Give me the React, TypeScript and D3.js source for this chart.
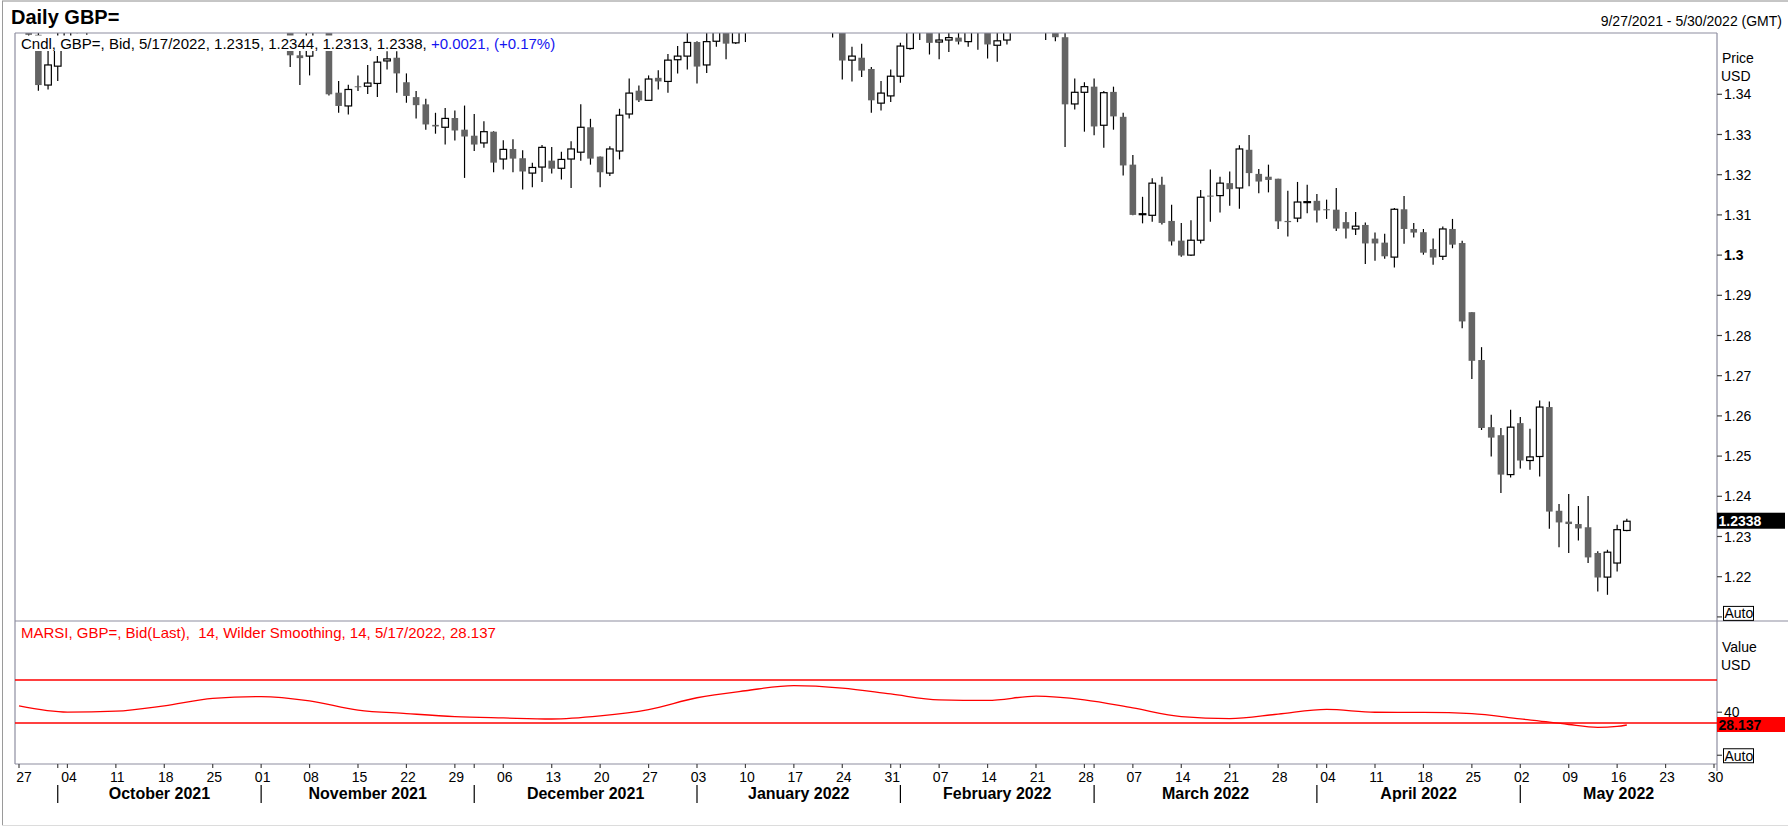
import { useRef, useEffect } from 'react';
import * as d3 from 'd3';

// Trading calendar shown on the axis (weekdays only)
const FIRST_DAY = '2021-09-27';
const LAST_DAY = '2022-05-30';

// Daily GBP= bid candles, 9/27/2021 .. 5/17/2022, one per weekday
const opens = [
  1.3677, 1.3712, 1.3548, 1.3423, 1.3470, 1.3535, 1.3608, 1.3613, 1.3590, 1.3615,
  1.3615, 1.3600, 1.3590, 1.3670, 1.3710, 1.3745, 1.3735, 1.3800, 1.3815, 1.3787,
  1.3760, 1.3770, 1.3755, 1.3747, 1.3830, 1.3683, 1.3675, 1.3615, 1.3670, 1.3497,
  1.3495, 1.3560, 1.3570, 1.3404, 1.3371, 1.3420, 1.3420, 1.3427, 1.3483, 1.3491,
  1.3430, 1.3393, 1.3375, 1.3324, 1.3318, 1.3341, 1.3312, 1.3297, 1.3279, 1.3307,
  1.3239, 1.3264, 1.3241, 1.3204, 1.3219, 1.3235, 1.3216, 1.3239, 1.3256, 1.3318,
  1.3245, 1.3204, 1.3259, 1.3351, 1.3409, 1.3385, 1.3441, 1.3432, 1.3486, 1.3495,
  1.3530, 1.3473, 1.3532, 1.3575, 1.3528, 1.3590, 1.3600, 1.3650, 1.3710, 1.3715,
  1.3678, 1.3645, 1.3600, 1.3620, 1.3590, 1.3560, 1.3485, 1.3491, 1.3463, 1.3378,
  1.3396, 1.3445, 1.3514, 1.3575, 1.3590, 1.3530, 1.3535, 1.3541, 1.3531, 1.3570,
  1.3560, 1.3522, 1.3535, 1.3570, 1.3610, 1.3590, 1.3595, 1.3570, 1.3542, 1.3376,
  1.3405, 1.3419, 1.3323, 1.3406, 1.3344, 1.3225, 1.3101, 1.3099, 1.3175, 1.3085,
  1.3036, 1.3000, 1.3037, 1.3148, 1.3148, 1.3179, 1.3167, 1.3262, 1.3202, 1.3195,
  1.3190, 1.3085, 1.3092, 1.3131, 1.3135, 1.3114, 1.3113, 1.3082, 1.3065, 1.3075,
  1.3041, 1.3031, 1.2995, 1.3114, 1.3065, 1.3057, 1.3015, 1.2997, 1.3065, 1.3030,
  1.2858, 1.2739, 1.2572, 1.2552, 1.2454, 1.2582, 1.2489, 1.2499, 1.2622, 1.2364,
  1.2337, 1.2331, 1.2323, 1.2259, 1.2199, 1.2234, 1.2315,
];
const highs = [
  1.3750, 1.3720, 1.3570, 1.3510, 1.3560, 1.3640, 1.3640, 1.3640, 1.3640, 1.3670,
  1.3640, 1.3640, 1.3690, 1.3720, 1.3775, 1.3765, 1.3835, 1.3835, 1.3830, 1.3810,
  1.3790, 1.3825, 1.3780, 1.3835, 1.3835, 1.3700, 1.3700, 1.3700, 1.3690, 1.3530,
  1.3575, 1.3607, 1.3575, 1.3433, 1.3424, 1.3447, 1.3473, 1.3495, 1.3507, 1.3507,
  1.3452, 1.3408, 1.3389, 1.3354, 1.3366, 1.3360, 1.3372, 1.3351, 1.3333, 1.3308,
  1.3286, 1.3288, 1.3261, 1.3230, 1.3274, 1.3269, 1.3257, 1.3283, 1.3375, 1.3339,
  1.3245, 1.3271, 1.3364, 1.3439, 1.3422, 1.3447, 1.3460, 1.3500, 1.3520, 1.3560,
  1.3532, 1.3560, 1.3600, 1.3590, 1.3600, 1.3625, 1.3660, 1.3720, 1.3748, 1.3730,
  1.3700, 1.3660, 1.3640, 1.3650, 1.3610, 1.3570, 1.3518, 1.3526, 1.3468, 1.3433,
  1.3462, 1.3528, 1.3590, 1.3628, 1.3600, 1.3570, 1.3570, 1.3570, 1.3640, 1.3600,
  1.3565, 1.3560, 1.3600, 1.3640, 1.3645, 1.3640, 1.3640, 1.3600, 1.3560, 1.3439,
  1.3430, 1.3439, 1.3408, 1.3419, 1.3354, 1.3249, 1.3145, 1.3191, 1.3195, 1.3125,
  1.3080, 1.3087, 1.3162, 1.3213, 1.3195, 1.3208, 1.3273, 1.3299, 1.3214, 1.3225,
  1.3190, 1.3160, 1.3182, 1.3175, 1.3152, 1.3138, 1.3167, 1.3107, 1.3107, 1.3081,
  1.3056, 1.3053, 1.3117, 1.3147, 1.3080, 1.3065, 1.3041, 1.3071, 1.3090, 1.3036,
  1.2858, 1.2771, 1.2603, 1.2570, 1.2615, 1.2597, 1.2568, 1.2638, 1.2636, 1.2381,
  1.2406, 1.2376, 1.2401, 1.2263, 1.2267, 1.2329, 1.2344,
];
const lows = [
  1.3656, 1.3526, 1.3409, 1.3412, 1.3433, 1.3549, 1.3552, 1.3548, 1.3580, 1.3590,
  1.3575, 1.3570, 1.3590, 1.3660, 1.3700, 1.3670, 1.3730, 1.3760, 1.3770, 1.3735,
  1.3735, 1.3740, 1.3715, 1.3725, 1.3670, 1.3605, 1.3600, 1.3605, 1.3468, 1.3423,
  1.3447, 1.3555, 1.3397, 1.3354, 1.3350, 1.3408, 1.3401, 1.3393, 1.3462, 1.3404,
  1.3379, 1.3340, 1.3312, 1.3302, 1.3275, 1.3285, 1.3192, 1.3259, 1.3267, 1.3206,
  1.3213, 1.3206, 1.3163, 1.3169, 1.3182, 1.3203, 1.3188, 1.3167, 1.3235, 1.3225,
  1.3169, 1.3197, 1.3238, 1.3340, 1.3381, 1.3384, 1.3412, 1.3404, 1.3452, 1.3462,
  1.3427, 1.3453, 1.3518, 1.3487, 1.3525, 1.3530, 1.3575, 1.3640, 1.3690, 1.3660,
  1.3640, 1.3580, 1.3595, 1.3575, 1.3541, 1.3437, 1.3432, 1.3443, 1.3354, 1.3360,
  1.3381, 1.3429, 1.3511, 1.3535, 1.3499, 1.3487, 1.3505, 1.3524, 1.3518, 1.3511,
  1.3489, 1.3481, 1.3524, 1.3560, 1.3580, 1.3565, 1.3535, 1.3532, 1.3269, 1.3362,
  1.3307, 1.3298, 1.3267, 1.3312, 1.3198, 1.3099, 1.3079, 1.3083, 1.3076, 1.3024,
  1.2996, 1.2998, 1.3029, 1.3083, 1.3106, 1.3123, 1.3115, 1.3171, 1.3154, 1.3156,
  1.3065, 1.3046, 1.3082, 1.3104, 1.3081, 1.3090, 1.3060, 1.3041, 1.3050, 1.2978,
  1.2986, 1.2991, 1.2969, 1.3028, 1.3044, 1.3001, 1.2976, 1.2988, 1.3017, 1.2818,
  1.2692, 1.2565, 1.2499, 1.2408, 1.2447, 1.2469, 1.2466, 1.2449, 1.2319, 1.2273,
  1.2259, 1.2290, 1.2234, 1.2163, 1.2155, 1.2213, 1.2313,
];
const closes = [
  1.3712, 1.3548, 1.3423, 1.3473, 1.3535, 1.3608, 1.3613, 1.3590, 1.3615, 1.3615,
  1.3600, 1.3590, 1.3670, 1.3710, 1.3745, 1.3735, 1.3800, 1.3815, 1.3787, 1.3760,
  1.3770, 1.3755, 1.3747, 1.3830, 1.3683, 1.3675, 1.3615, 1.3670, 1.3497, 1.3490,
  1.3560, 1.3570, 1.3400, 1.3371, 1.3412, 1.3418, 1.3428, 1.3480, 1.3488, 1.3452,
  1.3396, 1.3373, 1.3325, 1.3320, 1.3340, 1.3310, 1.3295, 1.3275, 1.3307, 1.3230,
  1.3263, 1.3240, 1.3208, 1.3218, 1.3268, 1.3215, 1.3238, 1.3264, 1.3318, 1.3240,
  1.3206, 1.3264, 1.3348, 1.3403, 1.3385, 1.3438, 1.3432, 1.3485, 1.3495, 1.3529,
  1.3469, 1.3531, 1.3575, 1.3526, 1.3590, 1.3600, 1.3650, 1.3710, 1.3715, 1.3678,
  1.3645, 1.3600, 1.3620, 1.3590, 1.3560, 1.3484, 1.3495, 1.3459, 1.3385, 1.3403,
  1.3445, 1.3520, 1.3570, 1.3590, 1.3528, 1.3535, 1.3541, 1.3531, 1.3570, 1.3560,
  1.3524, 1.3533, 1.3570, 1.3610, 1.3590, 1.3595, 1.3570, 1.3542, 1.3375, 1.3405,
  1.3419, 1.3320, 1.3404, 1.3345, 1.3223, 1.3100, 1.3103, 1.3179, 1.3080, 1.3034,
  1.2999, 1.3037, 1.3144, 1.3146, 1.3179, 1.3164, 1.3264, 1.3204, 1.3183, 1.3187,
  1.3084, 1.3082, 1.3132, 1.3133, 1.3111, 1.3112, 1.3066, 1.3066, 1.3072, 1.3029,
  1.3029, 1.2997, 1.3114, 1.3065, 1.3056, 1.3006, 1.2994, 1.3065, 1.3026, 1.2835,
  1.2737, 1.2570, 1.2546, 1.2454, 1.2572, 1.2489, 1.2498, 1.2622, 1.2362, 1.2335,
  1.2331, 1.2320, 1.2248, 1.2198, 1.2261, 1.2317, 1.2338,
];

// MARSI (14, Wilder)
const rsiDates = [
  '2021-09-27', '2021-10-04', '2021-10-11', '2021-10-18', '2021-10-25', '2021-11-01',
  '2021-11-08', '2021-11-15', '2021-11-22', '2021-11-29', '2021-12-06', '2021-12-13',
  '2021-12-20', '2021-12-27', '2022-01-03', '2022-01-10', '2022-01-17', '2022-01-24',
  '2022-01-31', '2022-02-07', '2022-02-14', '2022-02-21', '2022-02-28', '2022-03-07',
  '2022-03-14', '2022-03-21', '2022-03-28', '2022-04-04', '2022-04-11', '2022-04-18',
  '2022-04-25', '2022-05-02', '2022-05-05', '2022-05-09', '2022-05-12', '2022-05-16',
  '2022-05-17',
];
const rsiValues = [
  46.0, 40.2, 41.0, 46.0, 53.0, 54.5,
  50.5, 42.0, 38.8, 36.0, 34.7, 33.7,
  36.6, 42.5, 53.5, 60.0, 64.8, 62.5,
  57.0, 51.5, 51.0, 55.0, 51.5, 44.0,
  36.0, 34.0, 38.3, 42.7, 40.0, 39.9,
  38.8, 33.8, 30.9, 28.6, 26.0, 26.8,
  28.137,
];
const rsiBands = [70, 30];
const rsiTicks = [40];

const priceTicks = [1.22, 1.23, 1.24, 1.25, 1.26, 1.27, 1.28, 1.29, 1.3, 1.31, 1.32, 1.33, 1.34];
const priceAutoTick = 1.21;
const lastPrice = 1.2338;
const lastRsi = 28.137;

const W = 1788;
const H = 827;
const FONT = "'Liberation Sans', Arial, sans-serif";
const FRAME = '#8e8ea0';

export default function App() {
  const svgRef = useRef<SVGSVGElement>(null);

  useEffect(() => {
    if (!svgRef.current) return;
    const svg = d3.select(svgRef.current);
    svg.selectAll('*').remove();

    const plotL = 15;
    const plotR = 1717;
    const priceTop = 33;
    const priceBot = 621;
    const rsiBot = 764;

    const parse = d3.utcParse('%Y-%m-%d');
    const days = d3.utcDay
      .range(parse(FIRST_DAY)!, d3.utcDay.offset(parse(LAST_DAY)!, 1))
      .filter((d) => d.getUTCDay() !== 0 && d.getUTCDay() !== 6);
    const dayIndex = new Map(days.map((d, i) => [+d, i]));

    const x = d3.scaleLinear().domain([0, days.length - 1]).range([19, 1714]);
    const y = d3.scaleLinear().domain([1.22, 1.34]).range([576.7, 94.3]);
    const yr = d3.scaleLinear().domain([30, 70]).range([723, 680]);

    svg.append('rect').attr('width', W).attr('height', H).attr('fill', '#fff');

    // outer window border
    svg.append('line').attr('x1', 2).attr('x2', W).attr('y1', 1).attr('y2', 1).attr('stroke', '#8c8c8c');
    svg.append('line').attr('x1', 2.5).attr('x2', 2.5).attr('y1', 1).attr('y2', 825).attr('stroke', '#9a9a9a');
    svg.append('line').attr('x1', 2).attr('x2', W).attr('y1', 825.5).attr('y2', 825.5).attr('stroke', '#dcdcdc');

    // title + range
    svg.append('text')
      .attr('x', 11).attr('y', 24)
      .attr('font-family', FONT).attr('font-size', 20).attr('font-weight', 700)
      .text('Daily GBP=');
    svg.append('text')
      .attr('x', 1782).attr('y', 26).attr('text-anchor', 'end')
      .attr('font-family', FONT).attr('font-size', 14)
      .text('9/27/2021 - 5/30/2022 (GMT)');

    // candles
    svg.append('clipPath').attr('id', 'price-clip')
      .append('rect').attr('x', plotL).attr('y', priceTop)
      .attr('width', plotR - plotL).attr('height', priceBot - priceTop);

    const candles = closes.map((c, i) => ({ i, o: opens[i], h: highs[i], l: lows[i], c }));
    const bodyW = 6.6;
    const cg = svg.append('g').attr('clip-path', 'url(#price-clip)');

    cg.selectAll('.wick')
      .data(candles)
      .enter()
      .append('line')
      .attr('class', 'wick')
      .attr('x1', (d) => x(d.i)).attr('x2', (d) => x(d.i))
      .attr('y1', (d) => y(d.h)).attr('y2', (d) => y(d.l))
      .attr('stroke', '#000').attr('stroke-width', 1.2);

    cg.selectAll('.body')
      .data(candles)
      .enter()
      .append('rect')
      .attr('class', 'body')
      .attr('x', (d) => x(d.i) - bodyW / 2)
      .attr('width', bodyW)
      .attr('y', (d) => y(Math.max(d.o, d.c)))
      .attr('height', (d) => Math.max(1, Math.abs(y(d.o) - y(d.c))))
      .attr('fill', (d) => (d.c >= d.o ? '#fff' : '#646464'))
      .attr('stroke', (d) => (d.c >= d.o ? '#000' : 'none'))
      .attr('stroke-width', 1.2);

    // legend line with its white backing
    svg.append('rect').attr('x', 20).attr('y', 35.5).attr('width', 552).attr('height', 15.5).attr('fill', '#fff');
    const legend = svg.append('text')
      .attr('x', 21).attr('y', 48.5)
      .attr('font-family', FONT).attr('font-size', 15)
      .style('white-space', 'pre');
    legend.append('tspan').attr('fill', '#000')
      .text('Cndl, GBP=, Bid, 5/17/2022, 1.2315, 1.2344, 1.2313, 1.2338, ');
    legend.append('tspan').attr('fill', '#1414f0').text('+0.0021, (+0.17%)');

    // pane frames
    const frame = svg.append('g').attr('stroke', FRAME).attr('stroke-width', 1.2);
    frame.append('line').attr('x1', plotL).attr('x2', plotR).attr('y1', priceTop).attr('y2', priceTop);
    frame.append('line').attr('x1', plotL).attr('x2', plotL).attr('y1', priceTop).attr('y2', rsiBot);
    frame.append('line').attr('x1', plotR).attr('x2', plotR).attr('y1', priceTop).attr('y2', 771);
    frame.append('line').attr('x1', plotL).attr('x2', W).attr('y1', priceBot).attr('y2', priceBot);
    frame.append('line').attr('x1', plotL).attr('x2', plotR).attr('y1', rsiBot).attr('y2', rsiBot);

    // price axis
    const axisText = (sel: d3.Selection<SVGTextElement, unknown, null, undefined>) =>
      sel.attr('font-family', FONT).attr('font-size', 14).attr('fill', '#000');

    svg.append('text').attr('x', 1722).attr('y', 63).call(axisText).text('Price');
    svg.append('text').attr('x', 1721).attr('y', 81).call(axisText).text('USD');

    priceTicks.concat([priceAutoTick]).forEach((t) => {
      svg.append('line')
        .attr('x1', plotR).attr('x2', plotR + 5)
        .attr('y1', y(t)).attr('y2', y(t))
        .attr('stroke', '#444').attr('stroke-width', 1.2);
    });
    priceTicks.forEach((t) => {
      svg.append('text')
        .attr('x', 1724).attr('y', y(t) + 5)
        .call(axisText)
        .attr('font-weight', Math.abs(t - 1.3) < 1e-9 ? 700 : 400)
        .text(d3.format('~g')(t));
    });
    svg.append('rect')
      .attr('x', 1723.5).attr('y', y(priceAutoTick) - 10.5).attr('width', 30).attr('height', 14)
      .attr('fill', '#fff').attr('stroke', '#000').attr('stroke-width', 1);
    svg.append('text').attr('x', 1724.5).attr('y', y(priceAutoTick) + 1.5).call(axisText).text('Auto');

    svg.append('rect')
      .attr('x', plotR).attr('y', y(lastPrice) - 8.5).attr('width', 68).attr('height', 16)
      .attr('fill', '#000');
    svg.append('text')
      .attr('x', 1718.5).attr('y', y(lastPrice) + 5)
      .call(axisText).attr('fill', '#fff').attr('font-weight', 700)
      .text(d3.format('.4f')(lastPrice));

    // RSI pane
    svg.append('text')
      .attr('x', 21).attr('y', 637.5)
      .attr('font-family', FONT).attr('font-size', 15).attr('fill', '#ff0000')
      .style('white-space', 'pre')
      .text('MARSI, GBP=, Bid(Last),  14, Wilder Smoothing, 14, 5/17/2022, 28.137');

    rsiBands.forEach((b) => {
      svg.append('line')
        .attr('x1', plotL).attr('x2', plotR)
        .attr('y1', yr(b)).attr('y2', yr(b))
        .attr('stroke', '#ff0000').attr('stroke-width', 1.4);
    });

    const rsiPts = rsiDates.map((d, k) => ({ i: dayIndex.get(+parse(d)!)!, v: rsiValues[k] }));
    const rsiLine = d3.line<{ i: number; v: number }>()
      .x((d) => x(d.i))
      .y((d) => yr(d.v))
      .curve(d3.curveMonotoneX);
    svg.append('path')
      .datum(rsiPts)
      .attr('d', rsiLine)
      .attr('fill', 'none')
      .attr('stroke', '#ff0000')
      .attr('stroke-width', 1.3);

    svg.append('text').attr('x', 1722).attr('y', 652).call(axisText).text('Value');
    svg.append('text').attr('x', 1721).attr('y', 670).call(axisText).text('USD');

    rsiTicks.concat([0]).forEach((t) => {
      svg.append('line')
        .attr('x1', plotR).attr('x2', plotR + 5)
        .attr('y1', yr(t)).attr('y2', yr(t))
        .attr('stroke', '#444').attr('stroke-width', 1.2);
    });
    rsiTicks.forEach((t) => {
      svg.append('text').attr('x', 1724).attr('y', yr(t) + 5).call(axisText).text(String(t));
    });
    svg.append('rect')
      .attr('x', plotR).attr('y', yr(lastRsi) - 8).attr('width', 68).attr('height', 15)
      .attr('fill', '#ff0000');
    svg.append('text')
      .attr('x', 1718.5).attr('y', yr(lastRsi) + 5)
      .call(axisText).attr('font-weight', 700)
      .text(String(lastRsi));
    svg.append('rect')
      .attr('x', 1723.5).attr('y', yr(0) - 6.5).attr('width', 30).attr('height', 14)
      .attr('fill', '#fff').attr('stroke', '#000').attr('stroke-width', 1);
    svg.append('text').attr('x', 1724.5).attr('y', yr(0) + 5.5).call(axisText).text('Auto');

    // date axis
    const mondays = days.filter((d) => d.getUTCDay() === 1);
    const monthStarts = days.filter((d, i) => i > 0 && d.getUTCMonth() !== days[i - 1].getUTCMonth());
    const tickDays = Array.from(new Set([...mondays, ...monthStarts].map((d) => +d)));

    tickDays.forEach((t) => {
      const xi = x(dayIndex.get(t)!);
      svg.append('line')
        .attr('x1', xi).attr('x2', xi).attr('y1', rsiBot).attr('y2', rsiBot + 4)
        .attr('stroke', '#444').attr('stroke-width', 1.2);
    });
    const fmtDay = d3.utcFormat('%d');
    mondays.forEach((d, k) => {
      svg.append('text')
        .attr('x', x(dayIndex.get(+d)!) + (k === 0 ? 5 : 1.5)).attr('y', 781.5)
        .attr('text-anchor', 'middle')
        .call(axisText)
        .text(fmtDay(d));
    });

    const fmtMonth = d3.utcFormat('%B %Y');
    monthStarts.forEach((d, k) => {
      const xs = x(dayIndex.get(+d)!);
      svg.append('line')
        .attr('x1', xs).attr('x2', xs).attr('y1', 785).attr('y2', 803)
        .attr('stroke', '#000').attr('stroke-width', 1.2);
      const next = monthStarts[k + 1];
      const xe = next ? x(dayIndex.get(+next)!) : plotR;
      svg.append('text')
        .attr('x', (xs + xe) / 2).attr('y', 799)
        .attr('text-anchor', 'middle')
        .attr('font-family', FONT).attr('font-size', 16).attr('font-weight', 700)
        .text(fmtMonth(d));
    });
  }, []);

  return (
    <div style={{ position: 'fixed', left: 0, top: 0, width: W, height: H, background: '#fff' }}>
      <svg ref={svgRef} width={W} height={H} style={{ display: 'block' }} />
    </div>
  );
}
